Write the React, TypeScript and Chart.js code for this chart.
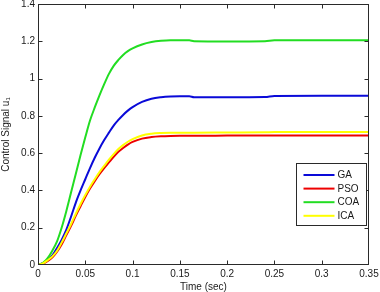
import React, { useEffect, useRef } from "react";
import { Chart, registerables } from "chart.js";

Chart.register(...registerables);

// Shared time axis (sec)
const times = [
  0, 0.005, 0.01, 0.015, 0.02, 0.025, 0.03, 0.035, 0.04, 0.045, 0.05,
  0.055, 0.06, 0.065, 0.07, 0.075, 0.08, 0.085, 0.09, 0.095, 0.1,
  0.11, 0.12, 0.13, 0.14, 0.15, 0.16, 0.165, 0.2, 0.24, 0.25, 0.3, 0.35,
];

const gaValues = [
  0, 0.01, 0.025, 0.05, 0.09, 0.135, 0.19, 0.26, 0.335, 0.4, 0.46,
  0.52, 0.575, 0.625, 0.67, 0.71, 0.748, 0.778, 0.805, 0.828, 0.847,
  0.875, 0.892, 0.9, 0.904, 0.905, 0.905, 0.9, 0.9, 0.901, 0.907, 0.908, 0.908,
];

const psoValues = [
  0, 0.005, 0.02, 0.04, 0.07, 0.11, 0.16, 0.21, 0.265, 0.315, 0.365,
  0.41, 0.45, 0.487, 0.52, 0.55, 0.58, 0.607, 0.628, 0.646, 0.66,
  0.678, 0.686, 0.69, 0.692, 0.693, 0.693, 0.693, 0.694, 0.695, 0.695, 0.695, 0.695,
];

const coaValues = [
  0, 0.01, 0.035, 0.075, 0.125, 0.2, 0.29, 0.39, 0.49, 0.59, 0.685,
  0.775, 0.845, 0.91, 0.97, 1.025, 1.068, 1.1, 1.127, 1.147, 1.162,
  1.183, 1.196, 1.203, 1.206, 1.206, 1.205, 1.2, 1.199, 1.2, 1.205, 1.205, 1.205,
];

const icaValues = [
  0, 0.008, 0.025, 0.045, 0.075, 0.12, 0.17, 0.22, 0.275, 0.327, 0.375,
  0.42, 0.46, 0.498, 0.532, 0.565, 0.595, 0.622, 0.643, 0.661, 0.675,
  0.695, 0.704, 0.708, 0.71, 0.71, 0.71, 0.71, 0.711, 0.712, 0.713, 0.713, 0.713,
];

const seriesLabels = ["GA", "PSO", "COA", "ICA"];
const seriesColors = ["#0a0ad8", "#ee0000", "#22dd22", "#ffff00"];

const xTicks = [0, 0.05, 0.1, 0.15, 0.2, 0.25, 0.3, 0.35];
const yTicks = [0, 0.2, 0.4, 0.6, 0.8, 1, 1.2, 1.4];

const xTitle = "Time (sec)";
const yTitle = "Control Signal u\u2081";

const FONT = '"Liberation Sans", Arial, Helvetica, sans-serif';
const AXIS_COLOR = "#2a2a2a";
const TEXT_COLOR = "#1a1a1a";

const fmt = (v: number) => String(Number(v.toFixed(2)));

const boxTicksPlugin = {
  id: "boxTicks",
  afterDatasetsDraw(chart: any) {
    const { ctx, chartArea: a, scales } = chart;
    const L = Math.round(a.left) + 0.5;
    const R = Math.round(a.right) - 0.5;
    const T = Math.round(a.top) + 0.5;
    const B = Math.round(a.bottom) - 0.5;
    ctx.save();
    ctx.strokeStyle = AXIS_COLOR;
    ctx.lineWidth = 1;
    ctx.strokeRect(L, T, R - L, B - T);
    const tl = 4;
    ctx.beginPath();
    xTicks.forEach((v, i) => {
      if (i === 0 || i === xTicks.length - 1) return;
      const x = Math.round(scales.x.getPixelForValue(v)) + 0.5;
      ctx.moveTo(x, B);
      ctx.lineTo(x, B - tl);
      ctx.moveTo(x, T);
      ctx.lineTo(x, T + tl);
    });
    yTicks.forEach((v, i) => {
      if (i === 0 || i === yTicks.length - 1) return;
      const y = Math.round(scales.y.getPixelForValue(v)) + 0.5;
      ctx.moveTo(L, y);
      ctx.lineTo(L + tl, y);
      ctx.moveTo(R, y);
      ctx.lineTo(R - tl, y);
    });
    ctx.stroke();
    ctx.restore();
  },
  afterDraw(chart: any) {
    const { ctx, chartArea: a } = chart;
    const w = 70;
    const h = 62;
    const x0 = Math.round(a.right) - 3 - w + 0.5;
    const y0 = Math.round(a.top) + 159 + 0.5;
    ctx.save();
    ctx.fillStyle = "#ffffff";
    ctx.fillRect(x0, y0, w, h);
    ctx.strokeStyle = AXIS_COLOR;
    ctx.lineWidth = 1;
    ctx.strokeRect(x0, y0, w, h);
    ctx.font = `10px ${FONT}`;
    ctx.textBaseline = "middle";
    ctx.textAlign = "left";
    chart.data.datasets.forEach((ds: any, i: number) => {
      const y = y0 + 11.5 + i * 13.6;
      ctx.strokeStyle = ds.borderColor;
      ctx.lineWidth = 2;
      ctx.beginPath();
      ctx.moveTo(x0 + 7, y);
      ctx.lineTo(x0 + 38, y);
      ctx.stroke();
      ctx.fillStyle = TEXT_COLOR;
      ctx.fillText(ds.label, x0 + 41, y + 0.5);
    });
    ctx.restore();
  },
};

export default function App() {
  const ref = useRef<HTMLCanvasElement | null>(null);

  useEffect(() => {
    if (!ref.current) return;
    const allValues = [gaValues, psoValues, coaValues, icaValues];
    const chart = new Chart(ref.current, {
      type: "line",
      data: {
        datasets: allValues.map((vals, i) => ({
          label: seriesLabels[i],
          data: times.map((t, j) => ({ x: t, y: vals[j] })),
          borderColor: seriesColors[i],
          backgroundColor: seriesColors[i],
          borderWidth: 2,
          pointRadius: 0,
          cubicInterpolationMode: "monotone",
          fill: false,
          order: allValues.length - i,
        })),
      },
      options: {
        animation: false,
        responsive: false,
        events: [],
        layout: { padding: { left: 0, top: 4, right: 11, bottom: 0 } },
        plugins: {
          legend: { display: false },
          tooltip: { enabled: false },
        },
        scales: {
          x: {
            type: "linear",
            min: 0,
            max: 0.35,
            afterBuildTicks: (s: any) => {
              s.ticks = xTicks.map((v) => ({ value: v }));
            },
            afterFit: (s: any) => {
              s.height = 27;
              s.paddingLeft = 0;
              s.paddingRight = 0;
            },
            ticks: {
              font: { family: FONT, size: 10 },
              color: TEXT_COLOR,
              padding: 3,
              maxRotation: 0,
              autoSkip: false,
              callback: (v: any) => fmt(Number(v)),
            },
            grid: { display: false, drawTicks: false },
            border: { display: false },
            title: {
              display: true,
              text: xTitle,
              color: TEXT_COLOR,
              font: { family: FONT, size: 10, lineHeight: 1 },
              padding: { top: 0, bottom: 0 },
            },
          },
          y: {
            type: "linear",
            min: 0,
            max: 1.4,
            afterBuildTicks: (s: any) => {
              s.ticks = yTicks.map((v) => ({ value: v }));
            },
            afterFit: (s: any) => {
              s.width = 38;
              s.paddingTop = 0;
              s.paddingBottom = 0;
            },
            ticks: {
              font: { family: FONT, size: 10 },
              color: TEXT_COLOR,
              padding: 3,
              autoSkip: false,
              callback: (v: any) => fmt(Number(v)),
            },
            grid: { display: false, drawTicks: false },
            border: { display: false },
            title: {
              display: true,
              text: yTitle,
              color: TEXT_COLOR,
              font: { family: FONT, size: 10, lineHeight: 1.2 },
              padding: { top: 0, bottom: 0 },
            },
          },
        },
      },
      plugins: [boxTicksPlugin],
    } as any);
    return () => chart.destroy();
  }, []);

  return (
    <div style={{ position: "fixed", left: 0, top: 0, width: 380, height: 292, background: "#fff" }}>
      <canvas ref={ref} width={380} height={292} style={{ display: "block", width: 380, height: 292 }} />
    </div>
  );
}
